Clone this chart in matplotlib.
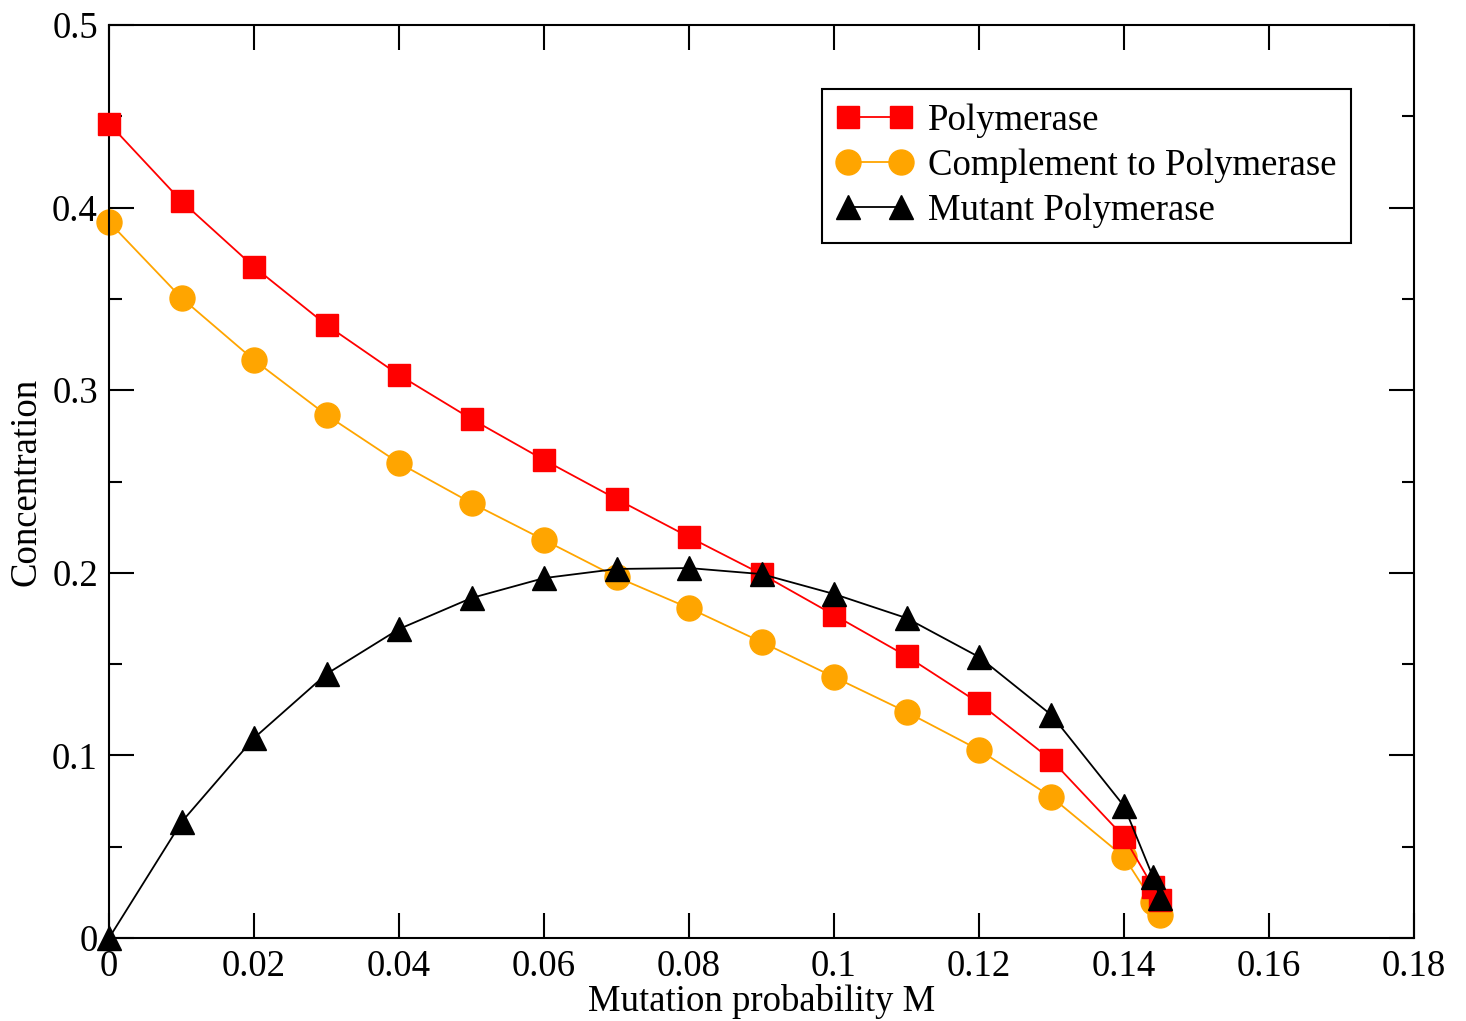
import matplotlib
matplotlib.use("Agg")
import matplotlib.pyplot as plt
import matplotlib.ticker as mticker

plt.rcParams["font.family"] = ["Liberation Serif", "DejaVu Serif"]

# ─── Data ─────────────────────────────────────────────────────────────────────

mutation = [0.0, 0.01, 0.02, 0.03, 0.04, 0.05, 0.06, 0.07, 0.08, 0.09,
            0.10, 0.11, 0.12, 0.13, 0.14, 0.144, 0.145]

polymerase = [0.446, 0.4035, 0.3675, 0.3357, 0.3083, 0.2842, 0.2618, 0.2404,
              0.2196, 0.1993, 0.1769, 0.1544, 0.1287, 0.0975, 0.0553, 0.028, 0.021]

complement = [0.3921, 0.3505, 0.3165, 0.2864, 0.2601, 0.2382, 0.2180, 0.1977,
              0.1807, 0.1621, 0.1429, 0.1238, 0.1030, 0.0772, 0.0444, 0.0197, 0.0126]

mutant = [0.0, 0.0635, 0.1095, 0.1446, 0.1692, 0.1862, 0.1971, 0.2021,
          0.2026, 0.1993, 0.1884, 0.1752, 0.1539, 0.1221, 0.0723, 0.0334, 0.0219]

FS = 26.5

# ─── Plot ─────────────────────────────────────────────────────────────────────

fig = plt.figure(figsize=(14.66, 10.21), dpi=100)
ax = fig.add_axes([0.0744, 0.0813, 0.8901, 0.8942])

ax.plot(mutation, polymerase, color="#ff0000", marker="s", ms=16, lw=1.3,
        label="Polymerase", zorder=3, clip_on=False)
ax.plot(mutation, complement, color="#ffa500", marker="o", ms=18, lw=1.3,
        label="Complement to Polymerase", zorder=2, clip_on=False)
ax.plot(mutation, mutant, color="black", marker="^", ms=17, lw=1.3,
        label="Mutant Polymerase", zorder=4, clip_on=False)

ax.set_xlim(0, 0.18)
ax.set_ylim(0, 0.5)

ax.xaxis.set_major_locator(mticker.MultipleLocator(0.02))
ax.yaxis.set_major_locator(mticker.MultipleLocator(0.1))
ax.yaxis.set_minor_locator(mticker.MultipleLocator(0.05))
ax.xaxis.set_major_formatter(mticker.FuncFormatter(lambda v, _: f"{v:g}"))
ax.yaxis.set_major_formatter(mticker.FuncFormatter(lambda v, _: f"{v:g}"))

ax.tick_params(which="both", direction="in", top=True, right=True,
               labelsize=FS, width=1.5, color="black")
ax.tick_params(which="major", length=18, pad=8)
ax.tick_params(which="minor", length=9)
for s in ax.spines.values():
    s.set_linewidth(1.5)

ax.set_xlabel("Mutation probability M", fontsize=FS, labelpad=0)
ax.set_ylabel("Concentration", fontsize=FS, labelpad=6)

leg = ax.legend(loc="upper right", bbox_to_anchor=(0.9517, 0.9299), numpoints=2,
                fontsize=FS, fancybox=False, framealpha=1, edgecolor="black",
                handlelength=2.04, handletextpad=0.43, borderpad=0.4,
                labelspacing=0.28, borderaxespad=0)
leg.get_frame().set_linewidth(1.5)

fig.savefig("out.png", dpi=100)
